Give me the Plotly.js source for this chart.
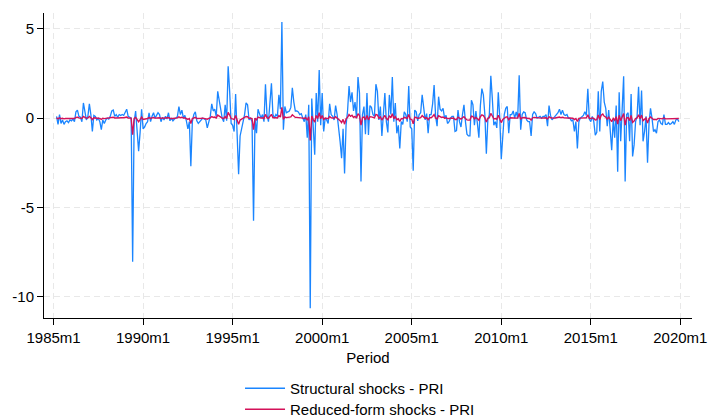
<!DOCTYPE html>
<html>
<head>
<meta charset="utf-8">
<script src="https://cdn.plot.ly/plotly-3.0.1.min.js"></script>
<style>html,body{margin:0;padding:0;background:#fff;}#chart{width:709px;height:417px;}</style>
</head>
<body>
<div id="chart"></div>
<script>
// First observation: 1985m3 (months counted from 1985m1 = 0)
const startMonthIndex = 2;
const tickLabels = ["1985m1","1990m1","1995m1","2000m1","2005m1","2010m1","2015m1","2020m1"];
const tickMonths = [0,60,120,180,240,300,360,420];
const yTicks = [-10,-5,0,5];

const structural = [
 0.1,-0.35,0.2,-0.3,-0.1,-0.35,-0.2,-0.15,-0.25,-0.1,
 -0.15,-0.05,-0.2,0.35,0.45,0.1,0.05,-0.2,0.85,0.3,
 -0.1,0.1,0.8,0.2,-0.75,0.15,0.1,-0.1,0.0,-0.2,
 -0.65,-0.1,-0.3,-0.1,0.0,-0.05,0.1,0.4,0.45,0.1,
 0.2,0.05,0.2,0.15,0.2,0.15,0.3,0.5,0.1,0.05,
 0.0,
 -8.05,
 -0.2,0.4,-0.6,-1.85,-0.8,0.5,-0.6,-0.5,-0.3,-0.2,
 0.3,-0.2,0.1,0.3,0.0,0.2,0.3,0.2,-0.2,0.05,
 -0.1,0.1,-0.05,0.3,-0.15,0.0,-0.15,-0.05,0.0,0.1,
 0.65,0.2,0.45,0.0,0.15,-0.15,-0.6,-0.2,-2.7,-0.2,
 0.2,0.35,-0.15,-0.3,-0.2,-0.1,0.0,-0.05,-0.1,-0.55,
 -0.2,0.1,0.8,0.4,
 0.5,0.1,1.5,0.9,0.6,0.0,-0.2,0.75,-0.15,2.9,
 1.5,-0.3,-0.4,-0.75,1.35,-0.6,-3.15,-1.0,-0.6,-0.2,
 0.2,0.85,0.75,-0.1,0.0,-0.2,-5.75,0.0,-0.85,0.5,
 0.3,0.0,0.2,-0.2,1.9,0.2,-0.2,1.1,1.95,0.2,
 0.0,0.2,0.1,1.3,0.5,5.38,-0.65,0.65,0.3,0.35,
 0.4,0.6,1.7,
 0.9,0.4,0.4,0.35,0.2,0.25,0.0,-0.2,0.2,
 -1.1,0.75,-10.65,1.1,-0.75,-2.05,1.4,-0.2,2.7,-0.4,
 1.4,-0.75,0.0,-0.1,-0.3,0.8,0.2,0.1,-0.1,0.7,
 0.2,-0.4,-1.3,-2.25,-0.6,-3.1,-0.4,0.4,1.8,0.9,
 1.45,0.4,0.9,0.0,2.3,1.4,-3.55,0.2,0.65,-0.9,
 1.4,-0.95,0.7,0.6,0.2,
 0.1,1.9,1.5,-0.1,0.65,-1.0,0.2,1.4,-0.2,-0.8,
 1.3,0.2,2.3,-0.2,0.85,-0.85,-0.4,-1.7,-0.2,-0.35,
 0.35,0.2,-0.2,1.8,-0.5,-0.6,-2.95,0.45,0.35,-0.15,
 0.2,0.3,1.3,0.6,-0.1,0.25,-0.85,0.2,0.2,0.8,
 1.85,0.1,-0.45,1.2,0.5,0.4,0.55,0.0,0.15,-0.3,
 -0.2,0.0,0.1,
 0.1,-0.75,-0.7,0.45,-0.2,-0.5,0.2,0.75,-0.2,-0.9,
 -1.0,-1.0,1.0,0.75,-0.4,0.4,-0.3,-1.1,0.7,1.65,
 1.3,0.2,-2.0,-0.1,0.2,2.37,1.1,-0.4,-0.2,-0.55,
 1.45,0.0,-2.3,-0.75,0.2,0.55,0.65,-0.85,0.2,0.2,
 0.4,0.0,0.35,0.0,2.4,-0.65,0.2,0.35,0.3,-0.1,
 -0.2,-0.2,-1.0,0.2,
 0.35,0.25,0.0,0.05,0.1,0.0,0.1,0.1,0.2,-0.45,
 0.7,0.15,-0.1,0.0,0.1,0.2,0.3,0.5,0.2,0.45,
 0.2,0.15,0.2,0.0,0.0,-0.15,-0.1,-0.75,-0.2,-1.7,
 -0.2,0.0,0.1,0.15,0.35,0.15,1.65,-0.05,-0.2,0.1,
 -0.2,-0.95,-0.8,1.5,-0.75,1.5,2.05,0.9,0.55,-0.45,
 0.45,-0.95,-1.8,
 -0.1,-1.1,0.7,-3.0,1.45,-1.3,0.5,2.35,-3.55,0.2,
 0.3,-1.3,1.35,-2.15,-1.5,-0.2,0.1,1.75,-0.4,1.55,
 -1.3,-0.75,0.1,-2.5,-0.3,0.55,0.0,-0.75,-0.65,-0.85,
 -0.2,-0.1,-0.3,-0.35,0.2,-0.35,-0.35,-0.25,-0.35,-0.3,
 -0.2,-0.35,-0.1,-0.05,-0.2
];

const reduced = [
 0.01,-0.04,0.02,-0.03,-0.01,-0.04,-0.02,-0.02,-0.03,-0.01,
 -0.02,-0.01,-0.02,0.04,0.05,0.01,0.01,-0.02,0.09,0.03,
 -0.01,0.01,0.09,0.02,-0.08,0.02,0.01,-0.01,0.0,-0.02,
 -0.07,-0.01,-0.03,-0.01,0.0,-0.01,0.01,0.04,0.05,0.01,
 0.02,0.01,0.02,0.02,0.02,0.02,0.03,0.06,0.01,0.01,
 0.0,
 -0.93,
 -0.02,0.04,-0.07,-0.2,-0.09,0.06,-0.07,-0.06,-0.03,-0.02,
 0.03,-0.02,0.01,0.03,0.0,0.02,0.03,0.02,-0.02,0.01,
 -0.01,0.01,-0.01,0.03,-0.02,0.0,-0.02,-0.01,0.0,0.01,
 0.07,0.02,0.05,0.0,0.02,-0.02,-0.07,-0.02,-0.3,-0.02,
 0.02,0.04,-0.02,-0.03,-0.02,-0.01,0.0,-0.01,-0.01,-0.06,
 -0.02,0.01,0.09,0.04,
 0.06,0.01,0.17,0.1,0.07,0.0,-0.02,0.08,-0.02,0.32,
 0.17,-0.03,-0.04,-0.08,0.15,-0.07,-0.35,-0.11,-0.07,-0.02,
 0.02,0.09,0.08,-0.01,0.0,-0.02,-0.65,0.0,-0.09,0.06,
 0.03,0.0,0.02,-0.02,0.21,0.02,-0.02,0.12,0.21,0.02,
 0.0,0.02,0.01,0.14,0.06,0.6,-0.07,0.07,0.03,0.04,
 0.04,0.07,0.19,
 0.1,0.04,0.04,0.04,0.02,0.03,0.0,-0.02,0.02,
 -0.12,0.08,-1.25,0.12,-0.08,-0.23,0.15,-0.02,0.3,-0.04,
 0.15,-0.08,0.0,-0.01,-0.03,0.09,0.02,0.01,-0.01,0.08,
 0.02,-0.04,-0.14,-0.25,-0.07,-0.34,-0.04,0.04,0.2,0.1,
 0.16,0.04,0.1,0.0,0.25,0.15,-0.39,0.02,0.07,-0.1,
 0.15,-0.1,0.08,0.07,0.02,
 0.01,0.21,0.17,-0.01,0.07,-0.11,0.02,0.15,-0.02,-0.09,
 0.14,0.02,0.25,-0.02,0.09,-0.09,-0.04,-0.19,-0.02,-0.04,
 0.04,0.02,-0.02,0.2,-0.06,-0.07,-0.32,0.05,0.04,-0.02,
 0.02,0.03,0.14,0.07,-0.01,0.03,-0.09,0.02,0.02,0.09,
 0.2,0.01,-0.05,0.13,0.06,0.04,0.06,0.0,0.02,-0.03,
 -0.02,0.0,0.01,
 0.01,-0.08,-0.08,0.05,-0.02,-0.06,0.02,0.08,-0.02,-0.1,
 -0.11,-0.11,0.11,0.08,-0.04,0.04,-0.03,-0.12,0.08,0.18,
 0.14,0.02,-0.22,-0.01,0.02,0.26,0.12,-0.04,-0.02,-0.06,
 0.16,0.0,-0.25,-0.08,0.02,0.06,0.07,-0.09,0.02,0.02,
 0.04,0.0,0.04,0.0,0.26,-0.07,0.02,0.04,0.03,-0.01,
 -0.02,-0.02,-0.11,0.02,
 0.04,0.03,0.0,0.01,0.01,0.0,0.01,0.01,0.02,-0.05,
 0.08,0.02,-0.01,0.0,0.01,0.02,0.03,0.06,0.02,0.05,
 0.02,0.02,0.02,0.0,0.0,-0.02,-0.01,-0.08,-0.02,-0.19,
 -0.02,0.0,0.01,0.02,0.04,0.02,0.18,-0.01,-0.02,0.01,
 -0.02,-0.1,-0.09,0.17,-0.08,0.17,0.23,0.1,0.06,-0.05,
 0.05,-0.1,-0.2,
 -0.01,-0.12,0.08,-0.33,0.16,-0.14,0.06,0.26,-0.39,0.02,
 0.03,-0.14,0.15,-0.24,-0.17,-0.02,0.01,0.19,-0.04,0.17,
 -0.14,-0.08,0.01,-0.28,-0.03,0.06,0.0,-0.08,-0.07,-0.09,
 -0.02,-0.01,-0.03,-0.04,0.02,-0.04,-0.04,-0.03,-0.04,-0.03,
 -0.02,-0.04,-0.01,-0.01,-0.02
];

const seriesNames = ["Structural shocks - PRI", "Reduced-form shocks - PRI"];
const seriesColors = ["#1a85ff", "#d41159"];

const months = structural.map((_, i) => startMonthIndex + i);
const fontFamily = "Liberation Sans, Arial, sans-serif";

const traces = [
  {x: months, y: structural, type: "scatter", mode: "lines", name: seriesNames[0],
   line: {color: seriesColors[0], width: 1.3}, legend: "legend"},
  {x: months, y: reduced, type: "scatter", mode: "lines", name: seriesNames[1],
   line: {color: seriesColors[1], width: 1.4}, legend: "legend2"}
];

const gridStyle = {showgrid: true, gridcolor: "#e8e8e8", gridwidth: 1, griddash: "6px,4px"};
const legendFont = {family: fontFamily, size: 15, color: "#000"};

const layout = {
  width: 709, height: 417,
  margin: {l: 44, r: 17, t: 13, b: 99, autoexpand: false},
  paper_bgcolor: "#ffffff", plot_bgcolor: "#ffffff",
  font: {family: fontFamily, size: 15, color: "#000"},
  showlegend: true,
  xaxis: Object.assign({
    range: [-6.4, 427.8], automargin: false,
    tickmode: "array", tickvals: tickMonths, ticktext: tickLabels,
    ticks: "outside", ticklen: 6, tickwidth: 1, tickcolor: "#000",
    showline: true, linecolor: "#000", linewidth: 1, mirror: false,
    zeroline: false,
    tickfont: {family: fontFamily, size: 15, color: "#000"},
    title: {text: "Period", font: {family: fontFamily, size: 15, color: "#000"}, standoff: 7}
  }, gridStyle),
  yaxis: Object.assign({
    range: [-11.2, 5.89], automargin: false,
    tickmode: "array", tickvals: yTicks, ticktext: yTicks.map(String),
    ticks: "outside", ticklen: 6, tickwidth: 1, tickcolor: "#000",
    showline: true, linecolor: "#000", linewidth: 1, mirror: false,
    zeroline: false,
    tickfont: {family: fontFamily, size: 15, color: "#000"}
  }, gridStyle),
  legend: {
    orientation: "v", x: 0.3025, xanchor: "left", y: -0.177, yanchor: "top",
    font: legendFont, bgcolor: "rgba(0,0,0,0)", itemwidth: 40
  },
  legend2: {
    orientation: "v", x: 0.3025, xanchor: "left", y: -0.246, yanchor: "top",
    font: legendFont, bgcolor: "rgba(0,0,0,0)", itemwidth: 40
  }
};

Plotly.newPlot("chart", traces, layout, {staticPlot: true, displayModeBar: false});
</script>
</body>
</html>
